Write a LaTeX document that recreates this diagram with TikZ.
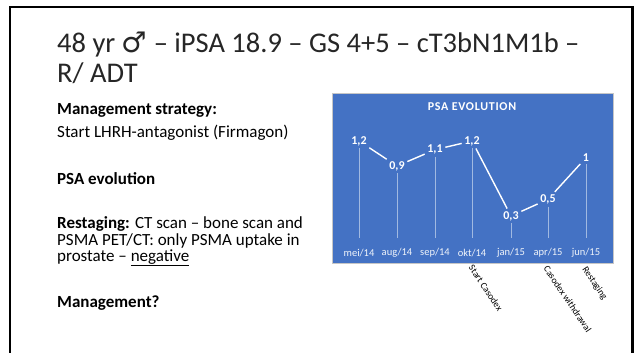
\documentclass[tikz,border=0pt]{standalone}
\usepackage{fontspec}
\setmainfont{Carlito}
\newfontfamily\symbolfont{DejaVu Sans}
\newfontfamily\spacedfont[LetterSpace=6]{Carlito}
\definecolor{chartblue}{HTML}{4472C4}

\begin{document}
\begin{tikzpicture}[
    x=1pt, y=-1pt,
    heading/.style={anchor=base west, inner sep=0pt, text=black!85, font=\fontsize{28.5}{30}\selectfont},
    body/.style={anchor=base west, inner sep=0pt, font=\fontsize{17}{18}\selectfont},
    bodybold/.style={body, font=\fontsize{17}{18}\selectfont\bfseries},
    ptlabel/.style={inner sep=2.5pt, text=white, font=\fontsize{12}{13}\selectfont\bfseries},
    axlabel/.style={text=white!92!chartblue, font=\fontsize{10.5}{11}\selectfont},
    event/.style={anchor=west, inner sep=0pt, rotate=-56, font=\fontsize{9.5}{10}\selectfont},
    psaline/.style={white, line width=1.4pt},
    dropline/.style={white!50!chartblue, line width=0.9pt}
  ]
  \useasboundingbox (0,0) rectangle (638,353);

  % Slide frame (open at the bottom)
  \draw[line width=2.5pt] (10,360) |- (632.5,7) -- (632.5,360);

  % Heading
  \node[heading] (title1) at (57,53) {48 yr {\symbolfont ♂} – iPSA 18.9 – GS 4+5 – cT3bN1M1b –};
  \node[heading] (title2) at (57,83) {R/ ADT};

  % Case text
  \node[bodybold] (strat) at (57,115) {Management strategy:};
  \node[body] (lhrh) at (57,138) {Start LHRH-antagonist (Firmagon)};
  \node[bodybold] (evol) at (57,184) {PSA evolution};
  \node[body] (restage1) at (57,228) {\textbf{Restaging:} CT scan – bone scan and};
  \node[body] (restage2) at (57,245) {PSMA PET/CT: only PSMA uptake in};
  \node[body] (restage3) at (57,261) {prostate – \underline{negative}};
  \node[bodybold] (mgmt) at (57,307) {Management?};

  % Chart area
  \draw[gray!45, fill=chartblue] (332,93) rectangle (613,263);
  \node[text=white, font=\spacedfont\fontsize{12}{13}\selectfont\bfseries] (charttitle) at (472,107) {PSA EVOLUTION};

  % PSA values (data labels sit on the points)
  \node[ptlabel] (p1) at (359,141) {1,2};
  \node[ptlabel] (p2) at (397,166) {0,9};
  \node[ptlabel] (p3) at (435,149.7) {1,1};
  \node[ptlabel] (p4) at (472,141) {1,2};
  \node[ptlabel] (p5) at (511,216) {0,3};
  \node[ptlabel] (p6) at (548,199.3) {0,5};
  \node[ptlabel] (p7) at (586,157.7) {1};

  % Foot of each drop line
  \coordinate (b1) at (359,238);
  \coordinate (b2) at (397,238);
  \coordinate (b3) at (435,238);
  \coordinate (b4) at (472,238);
  \coordinate (b5) at (511,238);
  \coordinate (b6) at (548,238);
  \coordinate (b7) at (586,238);

  % Category labels
  \node[axlabel] (m1) at (359,253) {mei/14};
  \node[axlabel] (m2) at (397,253) {aug/14};
  \node[axlabel] (m3) at (435,253) {sep/14};
  \node[axlabel] (m4) at (472,253) {okt/14};
  \node[axlabel] (m5) at (511,253) {jan/15};
  \node[axlabel] (m6) at (548,253) {apr/15};
  \node[axlabel] (m7) at (586,253) {jun/15};

  % Drop lines
  \draw[dropline] (p1.south) -- (b1);
  \draw[dropline] (p2.south) -- (b2);
  \draw[dropline] (p3.south) -- (b3);
  \draw[dropline] (p4.south) -- (b4);
  \draw[dropline] (p5.south) -- (b5);
  \draw[dropline] (p6.south) -- (b6);
  \draw[dropline] (p7.south) -- (b7);

  % PSA line
  \draw[psaline] (p1) -- (p2);
  \draw[psaline] (p2) -- (p3);
  \draw[psaline] (p3) -- (p4);
  \draw[psaline] (p4) -- (p5);
  \draw[psaline] (p5) -- (p6);
  \draw[psaline] (p6) -- (p7);

  % Treatment events under the axis
  \node[event] (ev1) at (471,266) {Start Casodex};
  \node[event] (ev2) at (546,267) {Casodex withdrawal};
  \node[event] (ev3) at (584,268) {Restaging};

\end{tikzpicture}
\end{document}
